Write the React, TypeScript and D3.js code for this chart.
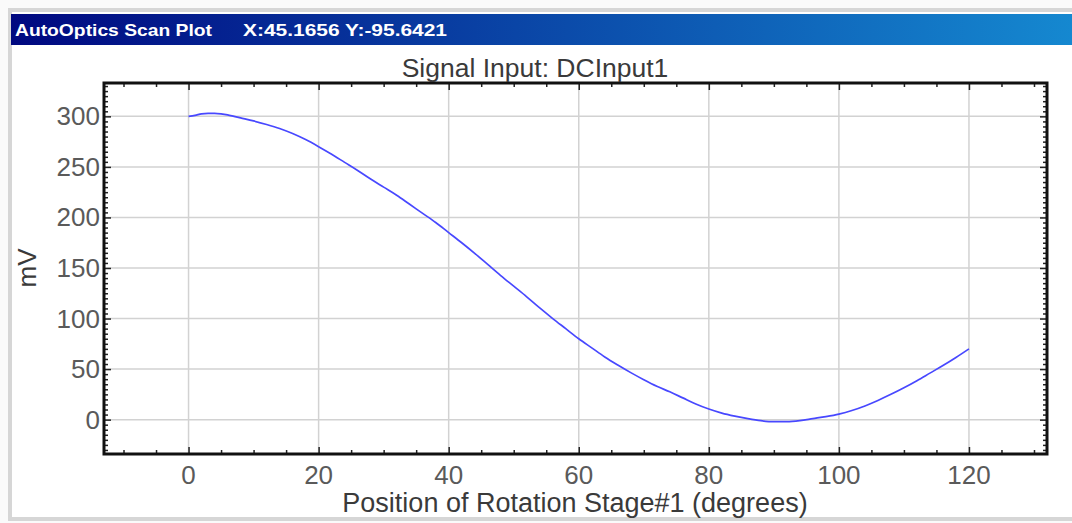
import React, { useEffect, useRef } from 'react';
import * as d3 from 'd3';

// scan readings
const positions = [
  0, 1, 2, 3, 4, 5, 6, 7, 8, 10, 12, 14, 16, 18, 20, 22, 24, 26, 28, 30,
  32, 34, 36, 38, 40, 42, 44, 46, 48, 50, 52, 54, 56, 58, 60, 62, 64, 66, 68, 70,
  72, 74, 76, 78, 80, 82, 84, 86, 88, 90, 92, 94, 96, 98, 100, 102, 104, 106, 108, 110,
  112, 114, 116, 118, 120
];
const signal = [
  300, 301, 302.5, 303, 303, 302.5, 301.5, 300, 298.5, 295.5, 292, 288, 283, 277, 270, 262.5, 254.5, 246.5, 238, 230,
  222, 213, 204, 195, 185, 175, 164.5, 153.5, 142.5, 132, 121.5, 110.5, 100, 90, 80, 71, 62, 54, 46.5, 39.5,
  33, 27.5, 21.5, 15.5, 10.5, 6.5, 3.5, 1, -1, -2, -2, -1, 1, 3, 5.5, 9, 13.5, 19, 25, 31.5,
  38.5, 46, 53.5, 61.5, 70
];
const xTicks = [0, 20, 40, 60, 80, 100, 120];
const yTicks = [0, 50, 100, 150, 200, 250, 300];

const W = 1072;
const H = 523;
const FONT = '"Liberation Sans", Arial, sans-serif';

function App() {
  const ref = useRef<SVGSVGElement>(null);

  useEffect(() => {
    const svg = d3.select(ref.current);
    svg.selectAll('*').remove();

    // window frame
    svg.append('rect').attr('width', W).attr('height', H).attr('fill', '#fafafa');
    svg.append('rect')
      .attr('x', 10).attr('y', 10).attr('width', W + 10).attr('height', 509)
      .attr('fill', '#fff').attr('stroke', '#d6d6d6').attr('stroke-width', 4);

    const grad = svg.append('defs').append('linearGradient').attr('id', 'tb');
    grad.append('stop').attr('offset', '0%').attr('stop-color', '#000880');
    grad.append('stop').attr('offset', '100%').attr('stop-color', '#1588d0');
    svg.append('rect')
      .attr('x', 11).attr('y', 14).attr('width', W - 11).attr('height', 31)
      .attr('fill', 'url(#tb)');
    svg.append('text')
      .attr('x', 15).attr('y', 36).attr('fill', '#fff')
      .attr('font-family', FONT).attr('font-weight', 'bold').attr('font-size', 17)
      .attr('textLength', 197).attr('lengthAdjust', 'spacingAndGlyphs')
      .text('AutoOptics Scan Plot');
    svg.append('text')
      .attr('x', 243).attr('y', 36).attr('fill', '#fff')
      .attr('font-family', FONT).attr('font-weight', 'bold').attr('font-size', 17)
      .attr('textLength', 204).attr('lengthAdjust', 'spacingAndGlyphs')
      .text('X:45.1656 Y:-95.6421');

    const left = 104, right = 1047, top = 83, bottom = 454;
    const x = d3.scaleLinear().domain([-13, 132]).range([left, right]);
    const y = d3.scaleLinear().domain([-34, 333]).range([bottom, top]);

    // grid
    const grid = svg.append('g').attr('stroke', '#d2d2d2').attr('stroke-width', 1.5);
    grid.selectAll('.gx').data(xTicks).join('line')
      .attr('x1', d => x(d)).attr('x2', d => x(d)).attr('y1', top).attr('y2', bottom);
    grid.selectAll('.gy').data(yTicks).join('line')
      .attr('y1', d => y(d)).attr('y2', d => y(d)).attr('x1', left).attr('x2', right);

    const xMinor = d3.range(-10, 131, 5).filter(d => d % 20 !== 0);
    const yMinor = d3.range(-30, 331, 5).filter(d => d % 50 !== 0);

    const tickAxis = (axis: any, tr: string, ticks: number[], size: number) => {
      svg.append('g').attr('transform', tr)
        .call(axis.tickValues(ticks).tickSize(size).tickFormat(() => ''))
        .call((g: any) => g.select('.domain').remove())
        .call((g: any) => g.selectAll('line').attr('stroke', '#222').attr('stroke-width', 1.5));
    };
    tickAxis(d3.axisBottom(x), `translate(0,${bottom})`, xTicks, -7);
    tickAxis(d3.axisBottom(x), `translate(0,${bottom})`, xMinor, -4);
    tickAxis(d3.axisTop(x), `translate(0,${top})`, xTicks, -7);
    tickAxis(d3.axisTop(x), `translate(0,${top})`, xMinor, -4);
    tickAxis(d3.axisLeft(y), `translate(${left},0)`, yTicks, -7);
    tickAxis(d3.axisLeft(y), `translate(${left},0)`, yMinor, -4);
    tickAxis(d3.axisRight(y), `translate(${right},0)`, yTicks, -7);
    tickAxis(d3.axisRight(y), `translate(${right},0)`, yMinor, -4);

    // line
    const line = d3.line<number>()
      .x((d, i) => x(positions[i]))
      .y(d => y(d))
      .curve(d3.curveMonotoneX);
    svg.append('path')
      .datum(signal)
      .attr('d', line)
      .attr('fill', 'none')
      .attr('stroke', '#4848ff')
      .attr('stroke-width', 1.7);

    // frame
    svg.append('rect')
      .attr('x', left).attr('y', top).attr('width', right - left).attr('height', bottom - top)
      .attr('fill', 'none').attr('stroke', '#111').attr('stroke-width', 3);

    // tick labels
    svg.append('g').selectAll('text').data(xTicks).join('text')
      .attr('x', d => x(d)).attr('y', 484)
      .attr('text-anchor', 'middle')
      .attr('font-family', FONT).attr('font-size', 26).attr('fill', '#5a5a5a')
      .text(d => d);
    svg.append('g').selectAll('text').data(yTicks).join('text')
      .attr('x', 100).attr('y', d => y(d) + 9)
      .attr('text-anchor', 'end')
      .attr('font-family', FONT).attr('font-size', 26).attr('fill', '#5a5a5a')
      .text(d => d);

    svg.append('text')
      .attr('x', 535).attr('y', 77).attr('text-anchor', 'middle')
      .attr('font-family', FONT).attr('font-size', 26.5).attr('fill', '#3a3a3a')
      .text('Signal Input: DCInput1');
    svg.append('text')
      .attr('x', 575).attr('y', 512).attr('text-anchor', 'middle')
      .attr('font-family', FONT).attr('font-size', 27).attr('fill', '#3a3a3a')
      .text('Position of Rotation Stage#1 (degrees)');
    svg.append('text')
      .attr('transform', 'translate(36,268) rotate(-90)')
      .attr('text-anchor', 'middle')
      .attr('font-family', FONT).attr('font-size', 26).attr('fill', '#3a3a3a')
      .text('mV');
  }, []);

  return (
    <svg ref={ref} width={W} height={H}
      style={{ position: 'absolute', left: 0, top: 0, display: 'block' }} />
  );
}

export default App;
